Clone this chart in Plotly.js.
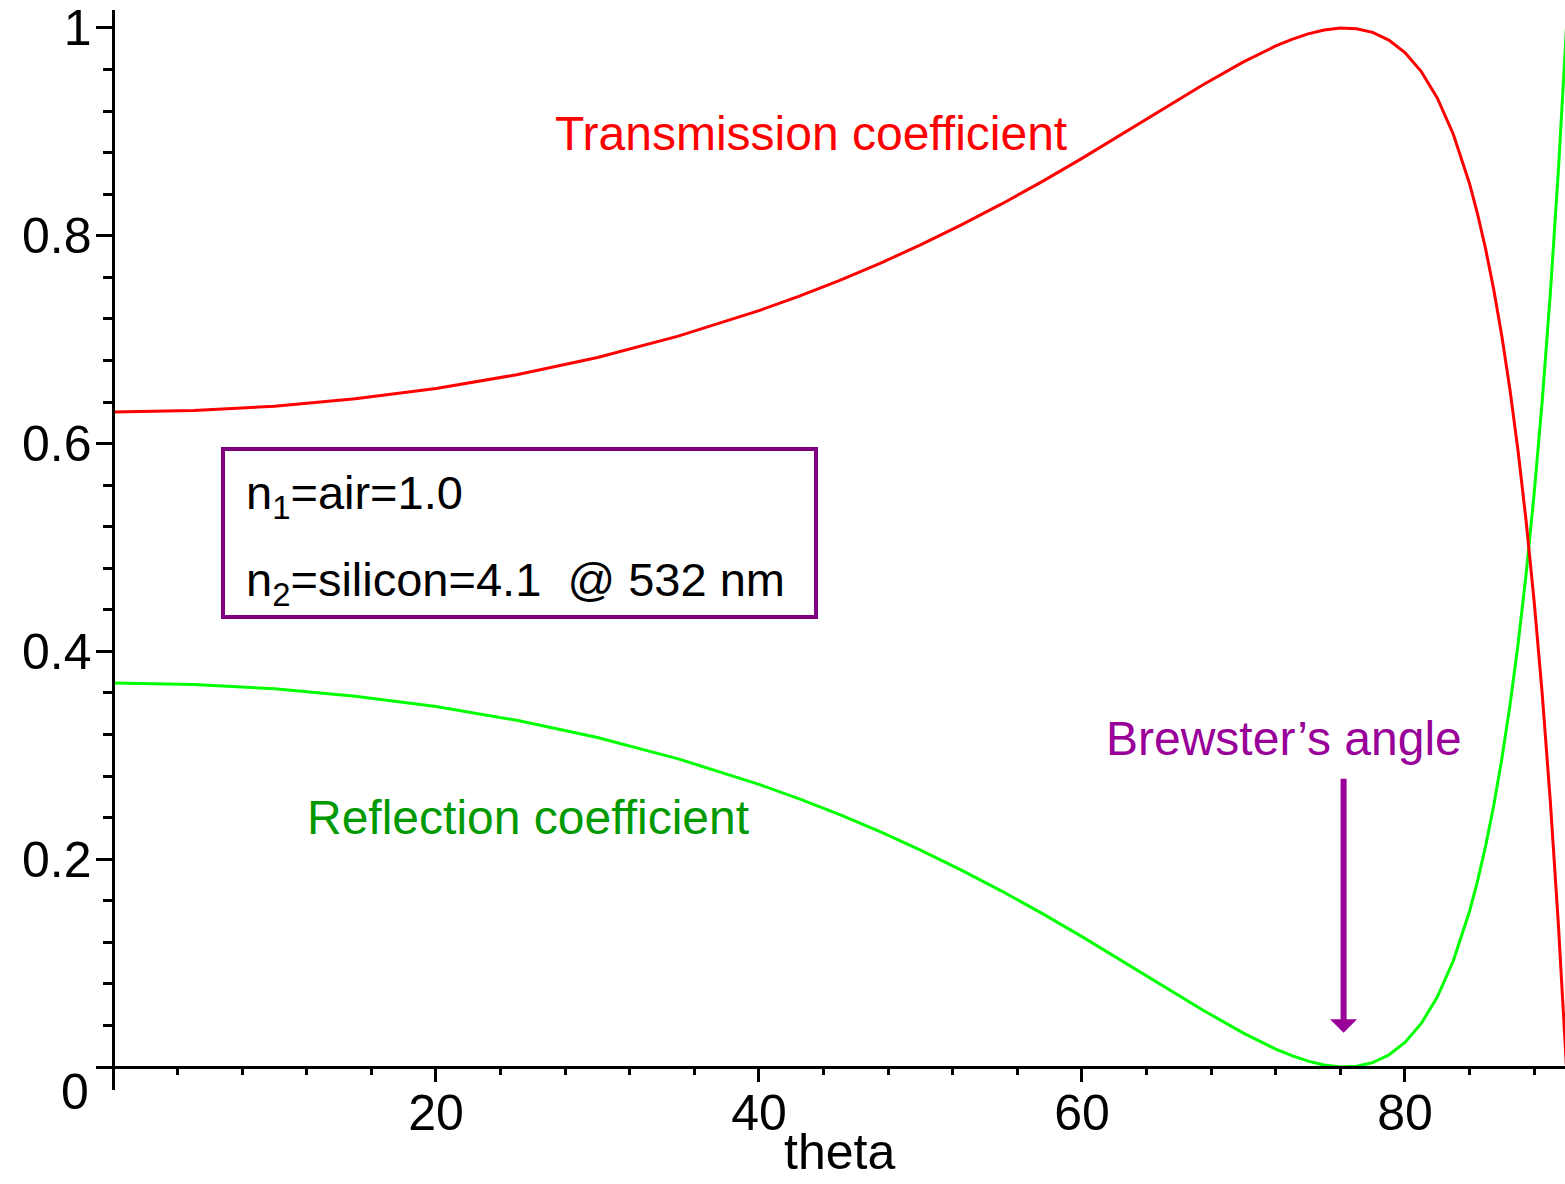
<!DOCTYPE html>
<html>
<head>
<meta charset="utf-8">
<script src="https://cdn.plot.ly/plotly-3.0.1.min.js"></script>
<style>
html,body{margin:0;padding:0;background:#fff;}
#chart{width:1565px;height:1184px;}
</style>
</head>
<body>
<div id="chart"></div>
<script>
// Angle of incidence (degrees)
const theta = [0, 5, 10, 15, 20, 25, 30, 35, 40, 42.5, 45, 47.5, 50, 52.5, 55, 57.5, 60,
  62.5, 65, 67.5, 70, 72, 73, 74, 75, 76, 77, 78, 79, 80, 81, 82, 83, 84, 84.5, 85, 85.5,
  86, 86.5, 87, 87.5, 88, 88.5, 89, 89.5, 89.75, 90];

// Reflection coefficient (green curve)
const reflection = [0.3695, 0.3681, 0.3640, 0.3569, 0.3469, 0.3337, 0.3171, 0.2966, 0.2720,
  0.2580, 0.2429, 0.2265, 0.2088, 0.1898, 0.1696, 0.1481, 0.1255,
  0.1021, 0.0782, 0.0547, 0.0326, 0.0173, 0.0109, 0.0057, 0.0019, 0.0001, 0.0007, 0.0042,
  0.0116, 0.0237, 0.0417, 0.0673, 0.1025, 0.1499, 0.1793, 0.2131, 0.2519, 0.2966, 0.3478,
  0.4066, 0.4742, 0.5519, 0.6412, 0.7440, 0.8627, 0.9289, 1.0];

// Transmission coefficient (red curve)
const transmission = [0.6305, 0.6319, 0.6360, 0.6431, 0.6531, 0.6663, 0.6829, 0.7034, 0.7280,
  0.7420, 0.7571, 0.7735, 0.7912, 0.8102, 0.8304, 0.8519, 0.8745,
  0.8979, 0.9218, 0.9453, 0.9674, 0.9827, 0.9891, 0.9943, 0.9981, 0.9999, 0.9993, 0.9958,
  0.9884, 0.9763, 0.9583, 0.9327, 0.8975, 0.8501, 0.8207, 0.7869, 0.7481, 0.7034, 0.6522,
  0.5934, 0.5258, 0.4481, 0.3588, 0.2560, 0.1373, 0.0711, 0.0];

const xTickVals = [20, 40, 60, 80];
const xTickText = ['20', '40', '60', '80'];
const yTickVals = [0.2, 0.4, 0.6, 0.8, 1];
const yTickText = ['0.2', '0.4', '0.6', '0.8', '1'];
const xTitle = 'theta';
const brewsterAngle = 76.2;

const tickFont = {family: 'Liberation Sans, Arial, sans-serif', size: 50, color: '#000'};
const textFont = 'Liberation Sans, Arial, sans-serif';

const traces = [
  {x: theta, y: reflection, type: 'scatter', mode: 'lines', name: 'Reflection coefficient',
   line: {color: '#00ff00', width: 3}, hoverinfo: 'skip'},
  {x: theta, y: transmission, type: 'scatter', mode: 'lines', name: 'Transmission coefficient',
   line: {color: '#ff0000', width: 3}, hoverinfo: 'skip'}
];

const layout = {
  width: 1565, height: 1184, autosize: false,
  margin: {l: 96, r: 0, t: 10, b: 94, pad: 0},
  paper_bgcolor: '#fff', plot_bgcolor: '#fff',
  showlegend: false,
  xaxis: {
    range: [-1.053, 89.91], anchor: 'free', position: 0.0213,
    showline: true, linewidth: 3, linecolor: '#000',
    showgrid: false, zeroline: false,
    ticks: 'outside', ticklen: 13, tickwidth: 3, tickcolor: '#000',
    tickmode: 'array', tickvals: xTickVals, ticktext: xTickText,
    tickfont: tickFont, ticklabelstandoff: -12,
    minor: {tickmode: 'linear', tick0: 0, dtick: 4, ticks: 'outside', ticklen: 6, tickwidth: 3, tickcolor: '#000', showgrid: false}
  },
  yaxis: {
    range: [-0.0221, 1.0173], anchor: 'free', position: 0.0119,
    showline: true, linewidth: 3, linecolor: '#000',
    showgrid: false, zeroline: false,
    ticks: 'outside', ticklen: 16, tickwidth: 3, tickcolor: '#000',
    tickmode: 'array', tickvals: yTickVals, ticktext: yTickText,
    tickfont: tickFont, ticklabelstandoff: -5,
    minor: {tickmode: 'linear', tick0: 0, dtick: 0.04, ticks: 'outside', ticklen: 9, tickwidth: 3, tickcolor: '#000', showgrid: false}
  },
  shapes: [
    {type: 'rect', xref: 'x', yref: 'y', x0: 6.81, x1: 43.53, y0: 0.4331, y1: 0.5948,
     line: {color: '#800080', width: 4}, fillcolor: 'rgba(0,0,0,0)'}
  ],
  annotations: [
    {xref: 'paper', yref: 'paper', x: 0.5058, y: -0.0852, xanchor: 'center', yanchor: 'bottom',
     text: xTitle, showarrow: false,
     font: {family: 'Liberation Sans, Arial, sans-serif', size: 50, color: '#000'}},
    {xref: 'paper', yref: 'paper', x: -0.0143, y: -0.002, xanchor: 'center', yanchor: 'middle',
     text: '0', showarrow: false, font: tickFont},
    {xref: 'x', yref: 'y', x: 43.25, y: 0.8986, xanchor: 'center', yanchor: 'middle',
     text: 'Transmission coefficient', showarrow: false,
     font: {family: textFont, size: 48, color: '#ff0000'}},
    {xref: 'x', yref: 'y', x: 25.70, y: 0.2402, xanchor: 'center', yanchor: 'middle',
     text: 'Reflection coefficient', showarrow: false,
     font: {family: textFont, size: 48, color: '#009900'}},
    {xref: 'x', yref: 'y', x: 72.51, y: 0.3163, xanchor: 'center', yanchor: 'middle',
     text: 'Brewster\u2019s angle', showarrow: false,
     font: {family: textFont, size: 48, color: '#990099'}},
    {xref: 'x', yref: 'y', x: 8.11, y: 0.5496, xanchor: 'left', yanchor: 'middle',
     text: 'n<sub>1</sub>=air=1.0', showarrow: false,
     font: {family: textFont, size: 47, color: '#000'}},
    {xref: 'x', yref: 'y', x: 8.11, y: 0.4658, xanchor: 'left', yanchor: 'middle',
     text: 'n<sub>2</sub>=silicon=4.1&nbsp; @ 532 nm', showarrow: false,
     font: {family: textFont, size: 47, color: '#000'}},
    {xref: 'x', yref: 'y', x: brewsterAngle, y: 0.033, axref: 'x', ayref: 'y',
     ax: brewsterAngle, ay: 0.279, text: '', showarrow: true,
     arrowhead: 1, arrowwidth: 6, arrowsize: 0.75, arrowcolor: '#990099', standoff: 0}
  ]
};

Plotly.newPlot('chart', traces, layout, {displayModeBar: false, staticPlot: true});
</script>
</body>
</html>
